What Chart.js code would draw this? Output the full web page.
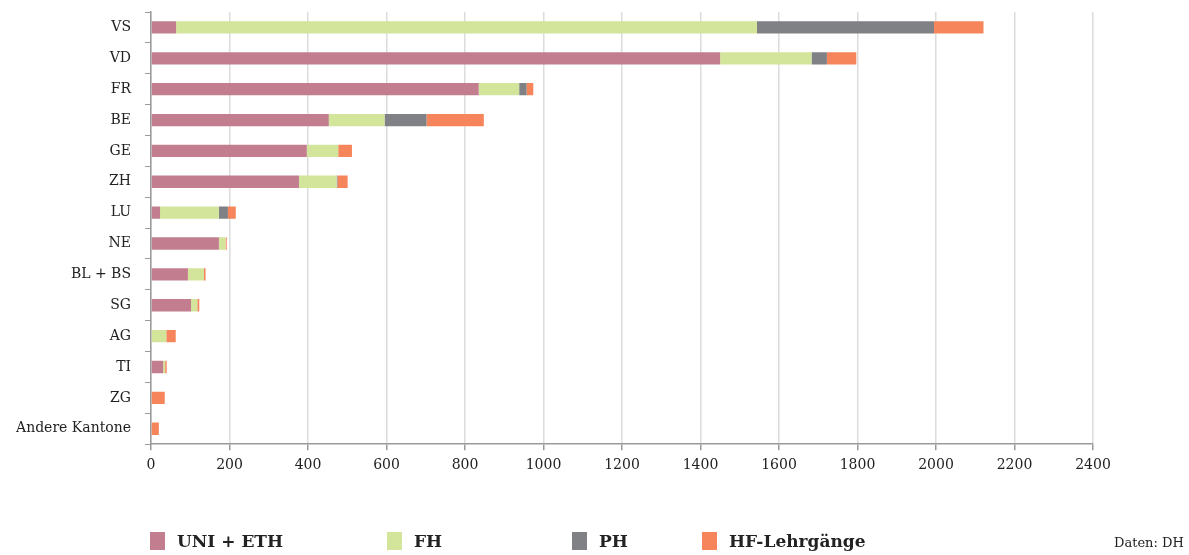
<!DOCTYPE html>
<html>
<head>
<meta charset="utf-8">
<script src="https://cdn.jsdelivr.net/npm/chart.js@4.4.1/dist/chart.umd.min.js"></script>
<style>
  html, body { margin: 0; padding: 0; background: #fff; }
  #wrap { position: relative; width: 1189px; height: 555px; }
  #c { position: absolute; left: 0; top: 0; }
  .leg { position: absolute; top: 531px; font-family: "DejaVu Serif", serif; font-weight: bold; font-size: 17px; color: #222; white-space: nowrap; }
  .leg span.box { display: inline-block; width: 15px; height: 18px; vertical-align: -3px; margin-right: 12px; }
  #src { position: absolute; top: 535px; left: 1114px; font-family: "DejaVu Serif", serif; font-size: 13px; color: #222; }
</style>
</head>
<body>
<div id="wrap">
  <canvas id="c" width="1189" height="555"></canvas>
  <div id="legend"></div>
  <div id="src">Daten: DH</div>
</div>
<script>
const categories = ["VS", "VD", "FR", "BE", "GE", "ZH", "LU", "NE", "BL + BS", "SG", "AG", "TI", "ZG", "Andere Kantone"];
const seriesNames = ["UNI + ETH", "FH", "PH", "HF-Lehrgänge"];
const uniEth = [64, 1450, 835, 453, 397, 377, 23, 173, 94, 102, 0, 31, 0, 0];
const fh     = [1480, 233, 103, 142, 80, 96, 150, 17, 41, 16, 39, 5, 0, 0];
const ph     = [451, 39, 19, 107, 0, 2, 23, 0, 0, 0, 0, 0, 0, 0];
const hf     = [126, 75, 17, 146, 35, 26, 20, 3, 4, 5, 24, 4, 35, 20];
const xTicks = [0, 200, 400, 600, 800, 1000, 1200, 1400, 1600, 1800, 2000, 2200, 2400];
const colors = ["#c27e8f", "#d3e49b", "#808185", "#f7855b"];
const legendX = [150, 387, 572, 702];

const seriesValues = [uniEth, fh, ph, hf];
const serif = "'DejaVu Serif', serif";

const chart = new Chart(document.getElementById('c'), {
  type: 'bar',
  data: {
    labels: categories,
    datasets: seriesNames.map((n, i) => ({
      label: n,
      data: seriesValues[i],
      backgroundColor: colors[i],
      borderWidth: 0,
      barPercentage: 0.4,
      categoryPercentage: 1.0
    }))
  },
  options: {
    indexAxis: 'y',
    responsive: false,
    animation: false,
    layout: { padding: { left: 0, right: 96, top: 12, bottom: 74 } },
    plugins: { legend: { display: false }, tooltip: { enabled: false } },
    scales: {
      x: {
        stacked: true,
        min: 0, max: 2400,
        afterBuildTicks: (s) => { s.ticks = xTicks.map(v => ({ value: v })); },
        grid: { color: '#dcdcdc', lineWidth: 1.5, tickColor: '#9a9a9a', tickLength: 6, drawTicks: true },
        border: { color: '#9a9a9a', width: 1.5 },
        ticks: { font: { family: serif, size: 14 }, color: '#222', padding: 7, callback: (v) => String(v) }
      },
      y: {
        stacked: true,
        grid: { drawOnChartArea: false, tickColor: '#9a9a9a', tickLength: 6, offset: true },
        border: { color: '#9a9a9a', width: 1.5 },
        ticks: { font: { family: serif, size: 14 }, color: '#222', padding: 14 },
        afterFit: (s) => { s.width = 151; s.paddingTop = 0; s.paddingBottom = 0; }
      }
    }
  }
});

const leg = document.getElementById('legend');
seriesNames.forEach((n, i) => {
  const d = document.createElement('div');
  d.className = 'leg';
  d.style.left = legendX[i] + 'px';
  d.innerHTML = '<span class="box" style="background:' + colors[i] + '"></span>' + n;
  leg.appendChild(d);
});
</script>
</body>
</html>
